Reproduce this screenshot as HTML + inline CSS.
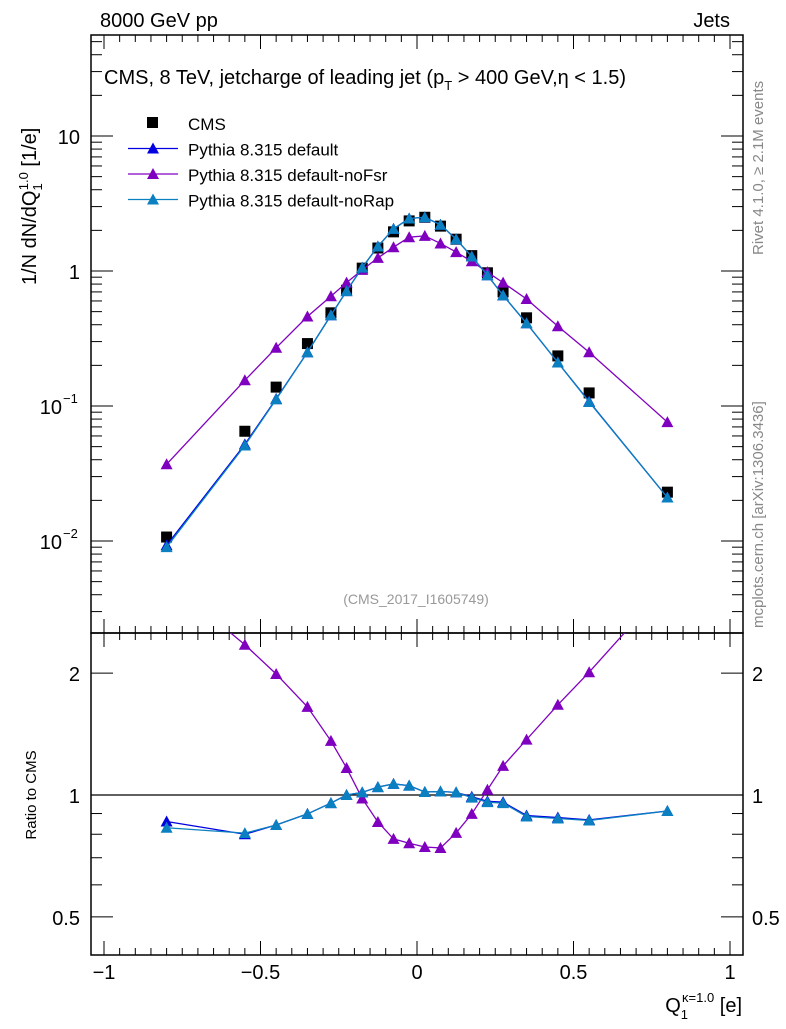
<!DOCTYPE html>
<html><head><meta charset="utf-8"><style>
body{margin:0;background:#fff;}
svg text{font-family:"Liberation Sans",sans-serif;}
</style></head><body>
<svg id="chart" width="786" height="1024" xmlns="http://www.w3.org/2000/svg">
<g id="main-layer"></g>
</svg>
<script>
const xs=[-0.8,-0.55,-0.45,-0.35,-0.275,-0.225,-0.175,-0.125,-0.075,-0.025,0.025,0.075,0.125,0.175,0.225,0.275,0.35,0.45,0.55,0.8];
const cmsVals=[0.0107,0.065,0.138,0.29,0.49,0.72,1.05,1.48,1.95,2.35,2.5,2.15,1.72,1.3,0.97,0.7,0.45,0.235,0.125,0.023];
const defVals=[0.0093,0.052,0.113,0.25,0.47,0.71,1.06,1.52,2.05,2.45,2.5,2.2,1.72,1.28,0.93,0.66,0.41,0.21,0.108,0.021];
const noFsrVals=[0.037,0.155,0.27,0.46,0.65,0.82,1.02,1.25,1.5,1.78,1.82,1.6,1.38,1.18,0.98,0.82,0.62,0.39,0.25,0.076];
const noRapVals=[0.0090,0.051,0.112,0.25,0.47,0.71,1.06,1.52,2.05,2.45,2.5,2.2,1.72,1.28,0.93,0.66,0.41,0.21,0.107,0.021];
const defRatio=[0.86,0.80,0.843,0.898,0.955,1.0,1.015,1.046,1.065,1.055,1.017,1.02,1.015,0.99,0.965,0.96,0.89,0.88,0.868,0.913];
const noFsrRatio=[3.4,2.35,1.99,1.65,1.36,1.166,0.98,0.858,0.779,0.76,0.744,0.74,0.806,0.898,1.03,1.18,1.37,1.67,2.01,3.3];
const noRapRatio=[0.83,0.805,0.843,0.898,0.955,1.0,1.015,1.046,1.065,1.055,1.017,1.02,1.015,0.985,0.96,0.955,0.885,0.875,0.865,0.913];
const xTicks=[-1,-0.5,0,0.5,1];
const xTickLabels=["\u22121","\u22120.5","0","0.5","1"];

const NS="http://www.w3.org/2000/svg";
const g=document.getElementById('main-layer');
const L=91,R=743,T=35,M=633,B=955;
const X=v=>417+v*313;
const Y=v=>271-Math.log10(v)*135;
const YR=v=>795-Math.log10(v)*405;
function el(t,a,txt){const e=document.createElementNS(NS,t);for(const k in a)e.setAttribute(k,a[k]);if(txt!==undefined)e.textContent=txt;g.appendChild(e);return e;}

const defs=el('defs',{});
defs.innerHTML='<clipPath id="cm"><rect x="91" y="35" width="652" height="598"/></clipPath><clipPath id="cr"><rect x="91" y="633" width="652" height="322"/></clipPath>';

let f=el('rect',{x:L,y:T,width:R-L,height:M-T,fill:'none',stroke:'#000','stroke-width':1.5});

f=el('rect',{x:L,y:M,width:R-L,height:B-M,fill:'none',stroke:'#000','stroke-width':1.5});


for(let i=0;i<=40;i++){const v=-1+i*0.05;if(v<-1.04||X(v)>R)continue;const x=X(v);const major=Math.abs(v*2-Math.round(v*2))<1e-6;const len=major?14:7;
 el('line',{x1:x,y1:M,x2:x,y2:M-len,stroke:'#000'});el('line',{x1:x,y1:T,x2:x,y2:T+len,stroke:'#000'});
 el('line',{x1:x,y1:B,x2:x,y2:B-len,stroke:'#000'});el('line',{x1:x,y1:M,x2:x,y2:M+len,stroke:'#000'});}
xTicks.forEach((v,i)=>{const t=el('text',{x:X(v),y:979,'font-size':20,'text-anchor':'middle'},xTickLabels[i]);
 });

for(let d=-3;d<=1;d++)for(let m=1;m<=9;m++){const v=m*Math.pow(10,d);const y=Y(v);if(y<T||y>M)continue;const len=m==1?22:11;
 el('line',{x1:L,y1:y,x2:L+len,y2:y,stroke:'#000'});el('line',{x1:R,y1:y,x2:R-len,y2:y,stroke:'#000'});}
[[10,'10'],[1,'1']].forEach(([v,s])=>{const t=el('text',{x:80,y:Y(v)+8,'font-size':20,'text-anchor':'end'},s);});
[[0.1,'−1'],[0.01,'−2']].forEach(([v,s])=>{const t=el('text',{x:62,y:Y(v)+8,'font-size':20,'text-anchor':'end'},'10');
 el('text',{x:63,y:Y(v)-3,'font-size':13},s);});

[0.5,0.6,0.7,0.8,0.9,1,2].forEach(v=>{const y=YR(v);const len=(v==0.5||v==1||v==2)?22:11;
 el('line',{x1:L,y1:y,x2:L+len,y2:y,stroke:'#000'});el('line',{x1:R,y1:y,x2:R-len,y2:y,stroke:'#000'});});
[[2,'2'],[1,'1'],[0.5,'0.5']].forEach(([v,s])=>{let t=el('text',{x:80,y:YR(v)+8,'font-size':20,'text-anchor':'end'},s);
 t=el('text',{x:752,y:YR(v)+8,'font-size':20},s);});
el('line',{x1:L,y1:YR(1),x2:R,y2:YR(1),stroke:'#000','stroke-width':1.3});

function tri(x,y,c,name,clip){const p=el('polygon',{points:`${x-6},${y+5} ${x+6},${y+5} ${x},${y-6}`,fill:c,'clip-path':clip});}
function series(vals,yf,c,name,clip){const pts=xs.map((x,i)=>X(x)+','+yf(vals[i])).join(' ');
 const l=el('polyline',{points:pts,fill:'none',stroke:c,'stroke-width':1.3,'clip-path':clip});
 xs.forEach((x,i)=>tri(X(x),yf(vals[i]),c,name+'-marker',clip));}
xs.forEach((x,i)=>{const r=el('rect',{x:X(x)-5.5,y:Y(cmsVals[i])-5.5,width:11,height:11,fill:'#000'});});
series(noFsrVals,Y,'#8000c0','pythia-nofsr','url(#cm)');
series(defVals,Y,'#0000e0','pythia-default','url(#cm)');
series(noRapVals,Y,'#0a80c0','pythia-norap','url(#cm)');
series(noFsrRatio,YR,'#8000c0','ratio-nofsr','url(#cr)');
series(defRatio,YR,'#0000e0','ratio-default','url(#cr)');
series(noRapRatio,YR,'#0a80c0','ratio-norap','url(#cr)');

let r=el('rect',{x:147,y:117,width:11,height:11,fill:'#000'});
const leg=[['CMS',null],['Pythia 8.315 default','#0000e0'],['Pythia 8.315 default-noFsr','#8000c0'],['Pythia 8.315 default-noRap','#0a80c0']];
leg.forEach(([s,c],i)=>{const y=123+i*25.5;
 if(c){const l=el('line',{x1:128,y1:y,x2:178,y2:y,stroke:c,'stroke-width':1.3});tri(153,y,c,'legend-marker','');}
 const t=el('text',{x:188,y:y+7,'font-size':17},s);});

let t;
t=el('text',{x:100,y:27,'font-size':20},'8000 GeV pp');
t=el('text',{x:730,y:27,'font-size':20,'text-anchor':'end'},'Jets');
t=el('text',{x:104,y:84,'font-size':20});t.innerHTML='CMS, 8 TeV, jetcharge of leading jet (p<tspan font-size="13" dy="6">T</tspan><tspan dy="-6"> &gt; 400 GeV,η &lt; 1.5)</tspan>';
t=el('text',{x:416,y:604,'font-size':14,fill:'#999','text-anchor':'middle'},'(CMS_2017_I1605749)');
t=el('text',{transform:'translate(36,285) rotate(-90)','font-size':20,'text-anchor':'start'});t.innerHTML='1/N dN/dQ<tspan font-size="13" dy="6">1</tspan><tspan font-size="13" dy="-14" dx="-6">1.0</tspan><tspan dy="8"> [1/e]</tspan>';
t=el('text',{transform:'translate(36,795) rotate(-90)','font-size':15,'text-anchor':'middle'},'Ratio to CMS');
t=el('text',{x:742,y:1012,'font-size':20,'text-anchor':'end'});t.innerHTML='Q<tspan font-size="13" dy="7">1</tspan><tspan font-size="13" dy="-17" dx="-6">κ=1.0</tspan><tspan dy="10"> [e]</tspan>';
t=el('text',{transform:'translate(763,255) rotate(-90)','font-size':15,fill:'#888'},'Rivet 4.1.0, ≥ 2.1M events');
t=el('text',{transform:'translate(763,628) rotate(-90)','font-size':15,fill:'#888'},'mcplots.cern.ch [arXiv:1306.3436]');
</script>
</body></html>
